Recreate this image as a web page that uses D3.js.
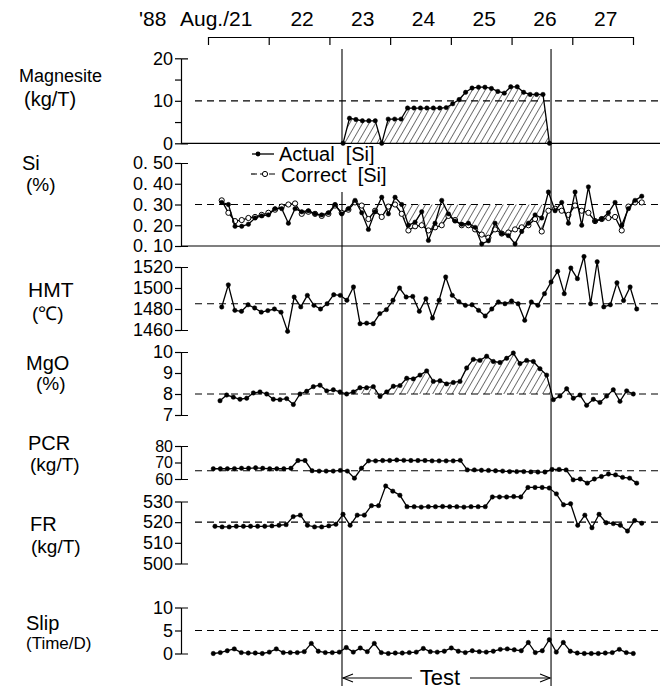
<!DOCTYPE html>
<html><head><meta charset="utf-8">
<script src="https://cdn.jsdelivr.net/npm/d3@7/dist/d3.min.js"></script>
<style>
body{margin:0;background:#fff;}
svg text{font-family:"Liberation Sans",Arial,sans-serif;fill:#000;}
</style></head><body>
<svg id="c" width="672" height="689"></svg>
<script>
// ---------- data ----------
const dayTicks = [21,22,23,24,25,26,27,28];
const dayLabels = ["22","23","24","25","26","27"];
const dayLabelDays = [22,23,24,25,26,27];
const testPeriod = [23.207, 26.650];
const siHatchRange = [24.2, 26.55];

const magnesiteRange = [23.224, 26.624];
const magnesite = [0,5.9,5.6,5.3,5.3,5.3,0,5.7,5.7,5.7,8.3,8.3,8.3,8.3,8.3,8.3,8.4,9.3,10.3,12.0,
  13.0,13.2,13.2,12.9,12.2,11.8,13.3,13.3,12.0,11.5,11.5,11.5,0];

const siRange = [21.226, 28.144];
const siActual = [0.31,0.30,0.195,0.195,0.205,0.235,0.245,0.25,0.28,0.28,
 0.21,0.28,0.265,0.27,0.255,0.25,0.26,0.30,0.255,0.28,
 0.32,0.26,0.18,0.265,0.335,0.255,0.335,0.30,0.20,0.215,
 0.265,0.127,0.21,0.32,0.255,0.22,0.205,0.21,0.19,0.11,
 0.125,0.21,0.16,0.15,0.11,0.17,0.21,0.25,0.235,0.36,
 0.27,0.31,0.21,0.36,0.20,0.385,0.22,0.23,0.26,0.31,
 0.20,0.28,0.32,0.34];
const siCorrect = [0.32,0.26,0.22,0.225,0.235,0.24,0.25,0.26,0.275,0.29,
 0.30,0.305,0.255,0.265,0.255,0.245,0.255,0.295,0.26,0.275,
 0.31,0.295,0.23,0.27,0.24,0.29,0.30,0.255,0.175,0.195,
 0.20,0.175,0.19,0.20,0.245,0.225,0.20,0.20,0.18,0.155,
 0.14,0.18,0.16,0.165,0.18,0.19,0.20,0.23,0.17,0.27,
 0.28,0.27,0.25,0.295,0.27,0.26,0.22,0.23,0.235,0.24,
 0.175,0.29,0.31,0.31];

const hmtRange = [21.226, 28.061];
const hmt = [1481.9,1503,1478.7,1477.8,1484,1481,1477,1478.5,1480,1477,
 1458.7,1491.4,1482,1493,1483.5,1480,1485,1493.6,1493,1488.3,
 1501,1466,1466.5,1466,1475.6,1479.4,1488.3,1500,1491.4,1492,
 1477.8,1489.8,1471.4,1488.3,1510.5,1493,1487,1483.5,1484,1478.7,
 1473.3,1480,1486.7,1485,1487.6,1485,1469.2,1486.7,1483.5,1494.6,
 1505.7,1515.9,1494.6,1519,1508.9,1530,1485,1525,1482,1484,
 1505,1488,1501,1480];

const mgoRange = [21.198, 28.005];
const mgo = [7.68,7.95,7.85,7.75,7.8,8.05,8.1,8.0,7.75,7.73,
 7.78,7.5,8.0,8.13,8.35,8.42,8.15,8.2,8.1,8.0,
 8.1,8.3,8.3,8.35,7.88,8.1,8.37,8.4,8.75,8.72,
 8.9,9.1,8.6,8.63,8.48,8.55,8.6,9.24,9.65,9.6,
 9.8,9.55,9.5,9.7,9.95,9.45,9.6,9.55,9.2,8.9,
 7.73,7.9,8.25,7.8,7.95,7.46,7.75,7.6,7.9,8.2,
 7.65,8.15,8.0];

const pcrRange = [21.087, 28.061];
const pcr = [66.2,66.2,66.2,66.3,66.5,66.5,66.8,66.5,66.2,66.2,
 66.2,66.5,71.2,71.2,65,64.8,64.8,64.8,65.2,64.8,
 60.5,66.5,71,71,71.2,71.2,71.5,71.3,71.2,71.2,
 71.2,71,71,71,71,71.3,65.5,65.5,65.3,65.2,
 65,64.8,64.5,64.5,64.5,64.3,64.2,64.2,65.8,65.8,
 65.5,59.5,60,57.5,60,61.5,63,62.5,61,60.5,
 57.5];

const frRange = [21.115, 28.144];
const fr = [518,517.7,517.7,518,518,518,518,518,518.2,518.5,518.8,
 522.7,523.4,
 518.5,517.7,517.7,518.2,519,
 523.8,518.5,523.4,523.4,528,528,537.5,535,533,
 527.5,527.5,527.3,527.5,527.5,527.6,527.5,527.5,527.3,527.5,527.5,527.5,
 532.2,532.2,532.2,532.4,532.2,
 536.8,536.8,536.8,536.5,
 533.7,528.4,528.9,518.5,523.4,517.3,523.8,519.7,519.3,518.5,515.7,520.8,519.5];

const slipRange = [21.087, 28.005];
const slip = [0,0.2,0.6,1.0,0.2,0.1,0.1,0,0.3,1.0,
 0.2,0.2,0.2,0.4,2.2,0.5,0.2,0.2,0.3,1.3,
 0.3,1.2,0.4,2.2,0.2,0,0.1,0.1,0.2,0.3,
 1.1,0.4,0.3,0.5,1.2,0.5,0.2,0.6,0.4,0.3,
 0.5,0.9,1.0,0.8,0.6,2.4,0.2,0.6,3.0,0.3,
 2.4,0.5,0.1,0,0,0,0.1,0.2,0.9,0.2,
 0];

// ---------- layout ----------
const svg = d3.select("#c");
const x = d3.scaleLinear().domain([21, 28]).range([208, 633]);
const AX = 181, REF0 = 195, REF1 = 660;

const defs = svg.append("defs");
const pat = defs.append("pattern").attr("id","hatch").attr("width",5.6).attr("height",10)
  .attr("patternUnits","userSpaceOnUse").attr("patternTransform","rotate(30)");
pat.append("line").attr("x1",0).attr("y1",0).attr("x2",0).attr("y2",10)
  .attr("stroke","#000").attr("stroke-width",1.1);
defs.append("clipPath").attr("id","clipTest").append("rect")
  .attr("x", x(testPeriod[0])).attr("y",0).attr("width", x(testPeriod[1])-x(testPeriod[0])).attr("height",689);
defs.append("clipPath").attr("id","clipSi").append("rect")
  .attr("x", x(siHatchRange[0])).attr("y",0).attr("width", x(siHatchRange[1])-x(siHatchRange[0])).attr("height",689);

function pts(range, vals){
  const n = vals.length;
  return vals.map((v,i)=>({t: range[0] + i*(range[1]-range[0])/(n-1), v}));
}

// top date axis
const gTop = svg.append("g").attr("transform","translate(0,37)");
gTop.call(d3.axisBottom(x).tickValues(dayTicks).tickSize(8).tickSizeOuter(0).tickFormat(""));
gTop.selectAll("path,line").attr("stroke","#000").attr("stroke-width",1.2);
svg.append("text").attr("x",139).attr("y",26).attr("font-size",21).text("'88");
svg.append("text").attr("x",180).attr("y",26).attr("font-size",21).text("Aug./21");
svg.selectAll("text.day").data(dayLabels).enter().append("text")
  .attr("x",(d,i)=>x(dayLabelDays[i]+0.5)+3).attr("y",26).attr("text-anchor","middle")
  .attr("font-size",21).text(d=>d);

const panels = [
 {name:"mag", domain:[0,20], range:[143.3,58.3], ticks:[0,5,10,15,20], fmt:d=> d%10===0?String(d):"", ref:10, base:true, fs:18},
 {name:"si", domain:[0.1,0.5], range:[246,163], ticks:[0.1,0.2,0.3,0.4,0.5], fmt:d=> d.toFixed(2).replace(".",". "), ref:0.30, base:true, fs:18},
 {name:"hmt", domain:[1460,1520], range:[330,267], ticks:[1460,1480,1500,1520], ref:1485, fs:18},
 {name:"mgo", domain:[7,10], range:[415,352], ticks:[7,8,9,10], ref:8, fs:18},
 {name:"pcr", domain:[60,80], range:[479,446], ticks:[60,70,80], ref:65, fs:16},
 {name:"fr", domain:[500,530], range:[563.5,501.5], ticks:[500,510,520,530], ref:520, fs:18},
 {name:"slip", domain:[0,10], range:[653.5,607.5], ticks:[0,5,10], ref:5, fs:18}
];
const Y = {};
panels.forEach(p=>{
  const y = d3.scaleLinear().domain(p.domain).range(p.range);
  Y[p.name] = y;
  const gl = svg.append("g").attr("transform",`translate(${AX},0)`);
  gl.call(d3.axisLeft(y).tickValues(p.ticks).tickSize(6).tickPadding(2).tickFormat(p.fmt || (d=>String(d))));
  gl.select(".domain").remove();
  gl.selectAll("line").attr("stroke","#000").attr("stroke-width",1.2);
  gl.selectAll("text").attr("font-size",p.fs).style("white-space","pre");
  const gr = svg.append("g").attr("transform",`translate(${AX},0)`);
  gr.call(d3.axisRight(y).tickValues([]).tickSizeOuter(7));
  gr.select(".domain").attr("stroke","#000").attr("stroke-width",1.2).attr("fill","none");
  if(p.base){
    svg.append("line").attr("x1",AX).attr("x2",REF1).attr("y1",y(p.domain[0])).attr("y2",y(p.domain[0]))
      .attr("stroke","#000").attr("stroke-width",1.2);
  }
});

// hatched areas
const magP = pts(magnesiteRange, magnesite);
svg.append("path").datum(magP).attr("fill","url(#hatch)").attr("stroke","none")
  .attr("d", d3.area().x(d=>x(d.t)).y0(Y.mag(0)).y1(d=>Y.mag(d.v)));
const siC = pts(siRange, siCorrect), siA = pts(siRange, siActual);
svg.append("path").datum(siC).attr("fill","url(#hatch)").attr("clip-path","url(#clipSi)")
  .attr("d", d3.area().x(d=>x(d.t)).y0(Y.si(0.30)).y1(d=>Y.si(Math.min(d.v,0.30))));
const mgoP = pts(mgoRange, mgo);
svg.append("path").datum(mgoP).attr("fill","url(#hatch)").attr("clip-path","url(#clipTest)")
  .attr("d", d3.area().x(d=>x(d.t)).y0(Y.mgo(8)).y1(d=>Y.mgo(Math.max(d.v,8))));

// dashed reference lines
panels.forEach(p=>{
  svg.append("line").attr("x1",REF0).attr("x2",REF1).attr("y1",Y[p.name](p.ref)).attr("y2",Y[p.name](p.ref))
    .attr("stroke","#000").attr("stroke-width",1.2).attr("stroke-dasharray","7,5");
});

// test lines
const tx0 = x(testPeriod[0]), tx1 = x(testPeriod[1]);
[[tx0,49,143],[tx0,192,686],[tx1,49,686]].forEach(s=>{
  svg.append("line").attr("x1",s[0]).attr("x2",s[0]).attr("y1",s[1]).attr("y2",s[2])
    .attr("stroke","#000").attr("stroke-width",1.1);
});

function series(name, data, open){
  const y = Y[name];
  svg.append("path").datum(data).attr("fill","none").attr("stroke","#000").attr("stroke-width",1.3)
    .attr("d", d3.line().x(d=>x(d.t)).y(d=>y(d.v)));
  svg.append("g").selectAll("circle").data(data).enter().append("circle")
    .attr("cx",d=>x(d.t)).attr("cy",d=>y(d.v)).attr("r", open?2.6:2.2)
    .attr("fill", open?"#fff":"#000").attr("stroke","#000").attr("stroke-width", open?1:0.5);
}
series("mag", magP);
series("si", siC, true);
series("si", siA);
series("hmt", pts(hmtRange, hmt));
series("mgo", mgoP);
series("pcr", pts(pcrRange, pcr));
series("fr", pts(frRange, fr));
series("slip", pts(slipRange, slip));

// legend
svg.append("line").attr("x1",252).attr("x2",274).attr("y1",154).attr("y2",154).attr("stroke","#000").attr("stroke-width",1.3);
svg.append("circle").attr("cx",258).attr("cy",154).attr("r",2.4).attr("fill","#000");
svg.append("text").attr("x",279).attr("y",161).attr("font-size",20).style("white-space","pre").text("Actual  [Si]");
svg.append("line").attr("x1",251).attr("x2",278).attr("y1",174).attr("y2",174).attr("stroke","#000").attr("stroke-width",1.2).attr("stroke-dasharray","6,3");
svg.append("circle").attr("cx",265).attr("cy",174).attr("r",2.6).attr("fill","#fff").attr("stroke","#000");
svg.append("text").attr("x",281).attr("y",182).attr("font-size",20).style("white-space","pre").text("Correct  [Si]");

// left labels
const leftLabels = [
 ["Magnesite",19,82,18],["(kg/T)",24,106,20],
 ["Si",22,170,20],["(%)",26,191,19],
 ["HMT",28,297,21],["(℃)",32,320,19],
 ["MgO",26,370,20],["(%)",36,390,19],
 ["PCR",28,450,20],["(kg/T)",30,471,19],
 ["FR",30,531,20],["(kg/T)",31,553,19],
 ["Slip",26,630,20],["(Time/D)",26,649,17]
];
leftLabels.forEach(l=>{
  svg.append("text").attr("x",l[1]).attr("y",l[2]).attr("font-size",l[3]).text(l[0]);
});

// test arrow
const ay = 678, tcx = 440;
svg.append("line").attr("x1",tx0+1).attr("x2",tcx-28).attr("y1",ay).attr("y2",ay).attr("stroke","#000").attr("stroke-width",1.1);
svg.append("line").attr("x1",tcx+30).attr("x2",tx1-1).attr("y1",ay).attr("y2",ay).attr("stroke","#000").attr("stroke-width",1.1);
svg.append("path").attr("d",`M${tx0+11},${ay-4}L${tx0+1},${ay}L${tx0+11},${ay+4}`).attr("fill","none").attr("stroke","#000").attr("stroke-width",1.1);
svg.append("path").attr("d",`M${tx1-11},${ay-4}L${tx1-1},${ay}L${tx1-11},${ay+4}`).attr("fill","none").attr("stroke","#000").attr("stroke-width",1.1);
svg.append("text").attr("x",tcx).attr("y",685).attr("text-anchor","middle").attr("font-size",22).text("Test");
</script>
</body></html>
